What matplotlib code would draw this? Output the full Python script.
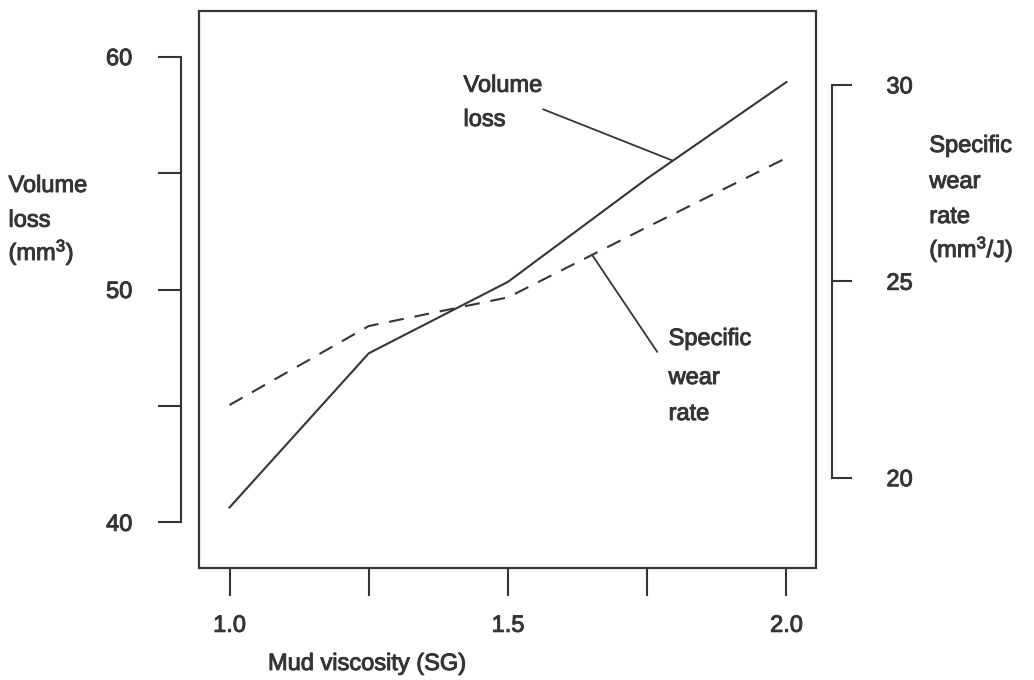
import numpy as np
import matplotlib
matplotlib.use("Agg")
import matplotlib.pyplot as plt
import matplotlib.patheffects as pe
from matplotlib.patches import Rectangle

# Data
viscosity = [1.0, 1.25, 1.5, 1.75, 2.0]
volume_loss = [40.64, 47.26, 50.33, 54.77, 58.91]   # mm^3, left axis
wear_rate = [21.85, 23.86, 24.59, 26.38, 28.14]     # mm^3/J, right axis

left_ticks = [40, 45, 50, 55, 60]
left_labels = ["40", "", "50", "", "60"]
right_ticks = [20, 25, 30]
right_labels = ["20", "25", "30"]
x_ticks = [1.0, 1.25, 1.5, 1.75, 2.0]
x_labels = ["1.0", "", "1.5", "", "2.0"]

ink = "#353535"
W, H = 1034, 680
heavy = [pe.withStroke(linewidth=0.7, foreground=ink)]

plt.rcParams["font.family"] = ["Liberation Sans", "DejaVu Sans"]
plt.rcParams["mathtext.fontset"] = "custom"
plt.rcParams["mathtext.rm"] = "Liberation Sans"
plt.rcParams["mathtext.it"] = "Liberation Sans:italic"
plt.rcParams["text.color"] = ink


def px(x, y):
    # pixel position (from top-left) -> figure fraction
    return x / W, 1 - y / H


fig = plt.figure(figsize=(W / 100, H / 100), dpi=100)
ax = fig.add_axes([199 / W, 1 - 568 / H, 617 / W, 557 / H])
ax.set_xlim(0.9452, 2.053)
ax.set_ylim(38.04, 61.96)
ax2 = ax.twinx()
ax2.set_ylim(17.70, 31.88)

for s in list(ax.spines.values()) + list(ax2.spines.values()):
    s.set_visible(False)

# plot frame
ax.add_patch(Rectangle((0, 0), 1, 1, transform=ax.transAxes, fill=False,
                       lw=1.6, ec=ink, clip_on=False))

# left axis (volume loss)
ax.spines["left"].set_visible(True)
ax.spines["left"].set_position(("outward", 13))
ax.spines["left"].set_bounds(40, 60)
ax.spines["left"].set_linewidth(1.5)
ax.spines["left"].set_color(ink)
ax.set_yticks(left_ticks, left_labels)
ax.tick_params(axis="y", direction="out", length=16.5, width=1.5, pad=18.5,
               labelsize=17, colors=ink)

# right axis (specific wear rate)
ax2.spines["right"].set_visible(True)
ax2.spines["right"].set_position(("outward", 11.5))
ax2.spines["right"].set_bounds(20, 30)
ax2.spines["right"].set_linewidth(1.5)
ax2.spines["right"].set_color(ink)
ax2.set_yticks(right_ticks, right_labels)
ax2.tick_params(axis="y", direction="out", length=14.4, width=1.5, pad=24.8,
                labelsize=17, colors=ink)

# bottom axis
ax.set_xticks(x_ticks, x_labels)
ax.tick_params(axis="x", direction="out", length=20, width=1.5, pad=13.7,
               labelsize=17, colors=ink)

for lab in ax.get_xticklabels() + ax.get_yticklabels() + ax2.get_yticklabels():
    lab.set_path_effects(heavy)

# data
ax.plot(viscosity, volume_loss, color=ink, lw=1.5)
ax2.plot(viscosity, wear_rate, color=ink, lw=1.5, ls=(0, (7.2, 5.2)))

# leader lines
vol_x = 1.796
ax.annotate("", xy=(vol_x, np.interp(vol_x, viscosity, volume_loss)),
            xytext=(1.563, 57.74),
            arrowprops=dict(arrowstyle="-", color=ink, lw=1.3, shrinkA=0, shrinkB=0))
swr_x = 1.651
ax2.annotate("", xy=(swr_x, np.interp(swr_x, viscosity, wear_rate)),
             xytext=(1.768, 23.2),
             arrowprops=dict(arrowstyle="-", color=ink, lw=1.3, shrinkA=0, shrinkB=0))

fs = 17
txt = dict(fontsize=fs, va="baseline", path_effects=heavy)
# in-plot labels
fig.text(*px(463.5, 91.8), "Volume", **txt)
fig.text(*px(463.5, 126), "loss", **txt)
fig.text(*px(668.6, 345), "Specific", **txt)
fig.text(*px(668.6, 384), "wear", **txt)
fig.text(*px(668.6, 420), "rate", **txt)

# axis titles
fig.text(*px(8.5, 192), "Volume", **txt)
fig.text(*px(8.5, 226.7), "loss", **txt)
fig.text(*px(8.5, 260), r"(mm$^{3}$)", **txt)

fig.text(*px(929.3, 152), "Specific", **txt)
fig.text(*px(929.3, 188), "wear", **txt)
fig.text(*px(929.3, 223), "rate", **txt)
fig.text(*px(929.3, 257), r"(mm$^{3}$/J)", **txt)

fig.text(*px(268, 670), "Mud viscosity (SG)", **txt)

fig.savefig("out.png", dpi=100)
